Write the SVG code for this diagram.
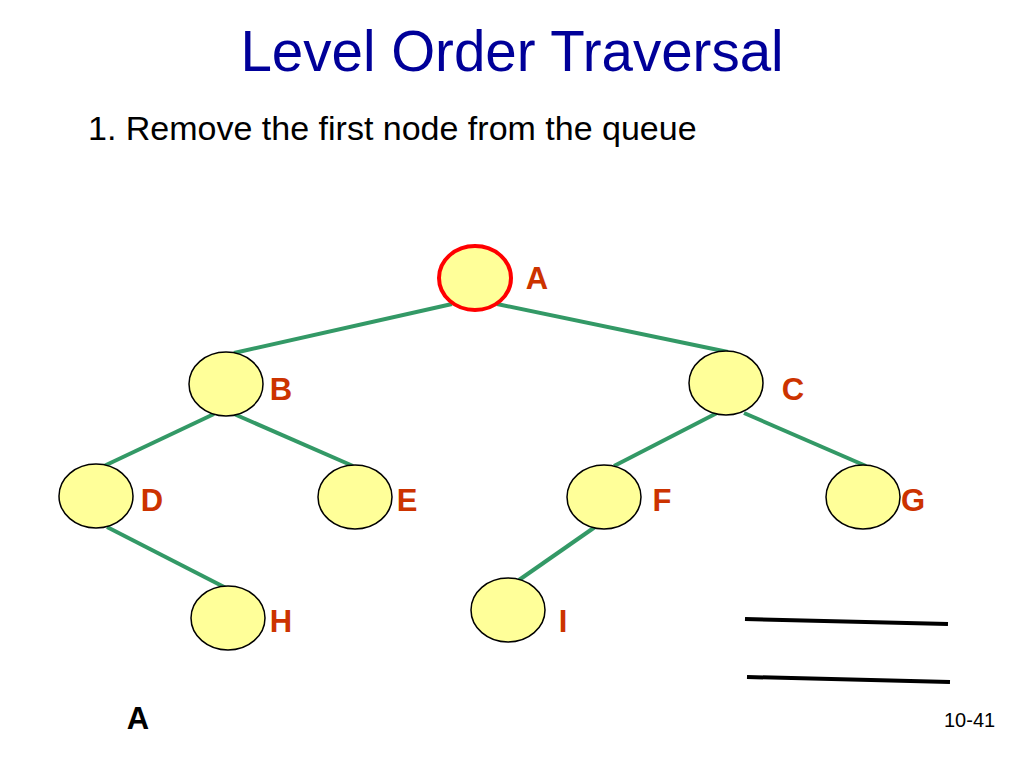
<svg xmlns="http://www.w3.org/2000/svg" width="1024" height="768" viewBox="0 0 1024 768">
<style>
.node{fill:#ffff99;stroke:#000;stroke-width:1.5}
.lbl{font-family:"Liberation Sans",Arial,sans-serif;font-weight:bold;font-size:31px;fill:#cc3300}
.edge{stroke:#339966;stroke-width:4;fill:none}
</style>
<rect width="1024" height="768" fill="#fff"/>
<text x="512" y="71" text-anchor="middle" font-family="Liberation Sans,Arial,sans-serif" font-size="56.5" fill="#000099">Level Order Traversal</text>
<text x="88" y="140" font-family="Liberation Sans,Arial,sans-serif" font-size="34" fill="#000">1. Remove the first node from the queue</text>
<g id="connectors">
<line class="edge" x1="452" y1="304" x2="234" y2="353"/>
<line class="edge" x1="497" y1="304" x2="728" y2="352"/>
<line class="edge" x1="214" y1="414" x2="104" y2="466"/>
<line class="edge" x1="234" y1="414" x2="353" y2="466"/>
<line class="edge" x1="717" y1="413" x2="614" y2="466"/>
<line class="edge" x1="744" y1="413" x2="866" y2="466"/>
<line class="edge" x1="107" y1="527" x2="228" y2="589"/>
<line class="edge" x1="595" y1="527" x2="519" y2="580"/>
</g>
<g id="node-A"><ellipse cx="475" cy="278" rx="36" ry="32" fill="#ffff99" stroke="#ff0000" stroke-width="4"/><text class="lbl" x="537" y="289" text-anchor="middle">A</text></g>
<g id="node-B"><ellipse class="node" cx="226" cy="384" rx="37" ry="32"/><text class="lbl" x="281" y="400" text-anchor="middle">B</text></g>
<g id="node-C"><ellipse class="node" cx="726" cy="383" rx="37" ry="32"/><text class="lbl" x="793" y="400" text-anchor="middle">C</text></g>
<g id="node-D"><ellipse class="node" cx="96" cy="496" rx="37" ry="32"/><text class="lbl" x="152" y="511" text-anchor="middle">D</text></g>
<g id="node-E"><ellipse class="node" cx="355" cy="497" rx="37" ry="32"/><text class="lbl" x="407" y="511" text-anchor="middle">E</text></g>
<g id="node-F"><ellipse class="node" cx="604" cy="497" rx="37" ry="32"/><text class="lbl" x="662" y="511" text-anchor="middle">F</text></g>
<g id="node-G"><ellipse class="node" cx="863" cy="497" rx="37" ry="32"/><text class="lbl" x="913" y="511" text-anchor="middle">G</text></g>
<g id="node-H"><ellipse class="node" cx="228" cy="618" rx="37" ry="32"/><text class="lbl" x="281" y="632" text-anchor="middle">H</text></g>
<g id="node-I"><ellipse class="node" cx="508" cy="610" rx="37" ry="32"/><text class="lbl" x="563" y="632" text-anchor="middle">I</text></g>
<line x1="745" y1="619" x2="948" y2="624" stroke="#000" stroke-width="4"/>
<line x1="747" y1="677" x2="950" y2="682" stroke="#000" stroke-width="4"/>
<text x="138" y="729" text-anchor="middle" font-family="Liberation Sans,Arial,sans-serif" font-weight="bold" font-size="31" fill="#000">A</text>
<text x="944" y="727" font-family="Liberation Sans,Arial,sans-serif" font-size="20" fill="#000">10-41</text>
</svg>
